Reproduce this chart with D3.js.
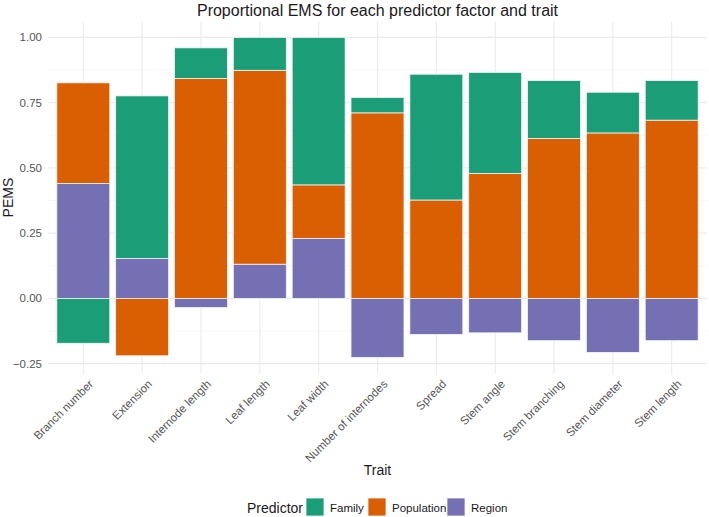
<!DOCTYPE html>
<html>
<head>
<meta charset="utf-8">
<script src="https://cdn.jsdelivr.net/npm/d3@7"></script>
<style>
  body { margin: 0; background: #fff; }
  svg { font-family: "Liberation Sans", Arial, sans-serif; }
</style>
</head>
<body>
<svg id="chart" width="709" height="517"></svg>
<script>
// data
const traits = ["Branch number", "Extension", "Internode length", "Leaf length", "Leaf width",
    "Number of internodes", "Spread", "Stem angle", "Stem branching", "Stem diameter", "Stem length"];
const family     = [-0.172, 0.623, 0.117, 0.126, 0.565, 0.059, 0.482, 0.387, 0.222, 0.156, 0.152];
const population = [0.386, -0.220, 0.843, 0.743, 0.205, 0.711, 0.377, 0.479, 0.613, 0.634, 0.683];
const region     = [0.440, 0.153, -0.035, 0.131, 0.230, -0.226, -0.138, -0.132, -0.162, -0.207, -0.162];
const predictors = ["Family", "Population", "Region"];
const yTicks = [-0.25, 0, 0.25, 0.5, 0.75, 1];

const colors = {Family: "#1B9E77", Population: "#D95F02", Region: "#7570B3"};
const series = {Family: family, Population: population, Region: region};

const svg = d3.select("#chart");
const panel = {left: 48, right: 707, top: 21.4, bottom: 373.7};

const x = d3.scaleBand().domain(traits).range([panel.left, panel.right])
    .paddingInner(0.1).paddingOuter(0.15);
const y = d3.scaleLinear().domain([-0.2886, 1.0614]).range([panel.bottom, panel.top]);

// grid
const grid = svg.append("g");
const minor = d3.range(-0.375, 1.07, 0.25).filter(v => v > -0.2886);
grid.selectAll(".minor").data(minor).enter().append("line")
    .attr("x1", panel.left).attr("x2", panel.right)
    .attr("y1", d => y(d)).attr("y2", d => y(d))
    .attr("stroke", "#F2F2F2").attr("stroke-width", 0.6);
grid.selectAll(".major").data(yTicks).enter().append("line")
    .attr("x1", panel.left).attr("x2", panel.right)
    .attr("y1", d => y(d)).attr("y2", d => y(d))
    .attr("stroke", "#EBEBEB").attr("stroke-width", 1.1);
grid.selectAll(".vx").data(traits).enter().append("line")
    .attr("x1", d => x(d) + x.bandwidth() / 2).attr("x2", d => x(d) + x.bandwidth() / 2)
    .attr("y1", panel.top).attr("y2", panel.bottom)
    .attr("stroke", "#EBEBEB").attr("stroke-width", 1.1);

// stacked segments (Region at base, then Population, then Family), negatives stacked separately
const segs = [];
traits.forEach(function (t, i) {
    let pos = 0, neg = 0;
    ["Region", "Population", "Family"].forEach(function (p) {
        const v = series[p][i];
        if (v >= 0) { segs.push({t: t, p: p, y0: pos, y1: pos + v}); pos += v; }
        else { segs.push({t: t, p: p, y0: neg + v, y1: neg }); neg += v; }
    });
});

svg.append("g").selectAll("rect").data(segs).enter().append("rect")
    .attr("x", d => x(d.t))
    .attr("width", x.bandwidth())
    .attr("y", d => y(d.y1))
    .attr("height", d => y(d.y0) - y(d.y1))
    .attr("fill", d => colors[d.p])
    .attr("stroke", "#f4f4f4")
    .attr("stroke-width", 0.8);

// y axis labels
svg.append("g").selectAll("text").data(yTicks).enter().append("text")
    .attr("x", 42).attr("y", d => y(d)).attr("dy", "0.35em")
    .attr("text-anchor", "end").attr("font-size", 11.5).attr("fill", "#555")
    .text(d => d3.format(".2f")(d));

// x axis labels
svg.append("g").selectAll("text").data(traits).enter().append("text")
    .attr("transform", d => "translate(" + (x(d) + x.bandwidth() / 2 + 5) + ",379) rotate(-45)")
    .attr("text-anchor", "end").attr("dy", "0.7em")
    .attr("font-size", 11.5).attr("fill", "#555")
    .text(d => d);

// titles
svg.append("text").attr("x", (panel.left + panel.right) / 2).attr("y", 16)
    .attr("text-anchor", "middle").attr("font-size", 16).attr("fill", "#1a1a1a")
    .text("Proportional EMS for each predictor factor and trait");
svg.append("text").attr("x", (panel.left + panel.right) / 2).attr("y", 475)
    .attr("text-anchor", "middle").attr("font-size", 14).attr("fill", "#1a1a1a")
    .text("Trait");
svg.append("text").attr("transform", "translate(13," + ((panel.top + panel.bottom) / 2) + ") rotate(-90)")
    .attr("text-anchor", "middle").attr("font-size", 14).attr("fill", "#1a1a1a")
    .text("PEMS");

// legend
const legend = svg.append("g");
legend.append("text").attr("x", 247).attr("y", 513)
    .attr("font-size", 14).attr("fill", "#1a1a1a").text("Predictor");
const legX = {Family: 306, Population: 368, Region: 447};
predictors.forEach(function (p) {
    legend.append("rect").attr("x", legX[p]).attr("y", 498).attr("width", 18).attr("height", 18)
        .attr("fill", colors[p]).attr("stroke", "#f4f4f4").attr("stroke-width", 0.8);
    legend.append("text").attr("x", legX[p] + 24).attr("y", 511.5)
        .attr("font-size", 11.5).attr("fill", "#1a1a1a").text(p);
});
</script>
</body>
</html>
